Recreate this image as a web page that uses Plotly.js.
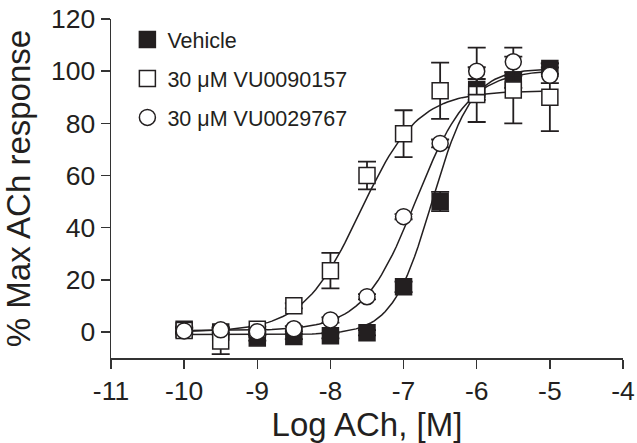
<!DOCTYPE html>
<html>
<head>
<meta charset="utf-8">
<script src="https://cdn.plot.ly/plotly-3.0.1.min.js"></script>
<style>html,body{margin:0;padding:0;background:#fff;}#chart{width:637px;height:443px;}</style>
</head>
<body>
<div id="chart"></div>
<script>
// Log [ACh] (M)
const logAch = [-10, -9.5, -9, -8.5, -8, -7.5, -7, -6.5, -6, -5.5, -5];

// Vehicle (filled squares)
const vehicleMean = [1, 0, -2.3, -1.8, -1.5, -0.3, 17.3, 50, 93, 96.6, 101];
const vehicleSem  = [1, 1, 1, 1, 1, 1, 2, 3.7, 4, 3, 2];

// 30 uM VU0090157 (open squares)
const vu0090157Mean = [0.5, -3.5, 1, 10, 23.5, 60, 76, 92.5, 91, 92.8, 90];
const vu0090157Sem  = [1, 5, 1, 1, 6.8, 5.3, 9, 10.8, 10.5, 12.8, 13];

// 30 uM VU0029767 (open circles)
const vu0029767Mean = [0.4, 0.8, 0.1, 1.2, 4.6, 13.5, 44.2, 72.3, 100, 103.6, 98.4];
const vu0029767Sem  = [1, 1, 1, 1, 1, 1, 1, 1.5, 9, 5.4, 3];

// Fitted four-parameter logistic curves: [bottom, top, logEC50, hill]
const vehicleFit   = [-1, 101, -6.61, 1.6];
const vu0090157Fit = [0, 92.5, -7.59, 1.1];
const vu0029767Fit = [0.5, 100.5, -6.83, 1.2];

const seriesNames = ['Vehicle', '30 \u03bcM VU0090157', '30 \u03bcM VU0029767'];
const xTicks = [-11, -10, -9, -8, -7, -6, -5, -4];
const yTicks = [0, 20, 40, 60, 80, 100, 120];

const INK = '#231f20';
const FONT = 'Liberation Sans, Arial, Helvetica, sans-serif';

function fitCurve(p) {
  const xs = [], ys = [];
  for (let i = 0; i <= 100; i++) {
    const x = -10 + i * 0.05;
    xs.push(x);
    ys.push(p[0] + (p[1] - p[0]) / (1 + Math.pow(10, (p[2] - x) * p[3])));
  }
  return {xs, ys};
}

const fits = [vehicleFit, vu0090157Fit, vu0029767Fit];
const curveTraces = fits.map(f => {
  const c = fitCurve(f);
  return {x: c.xs, y: c.ys, type: 'scatter', mode: 'lines',
          line: {color: INK, width: 1.5}, showlegend: false, hoverinfo: 'skip'};
});

function pointTrace(name, y, err, symbol, fill, group) {
  return {
    x: logAch, y: y, name: name, type: 'scatter', mode: 'markers',
    legendgroup: group,
    marker: {symbol: symbol, size: 16, color: fill, line: {color: INK, width: 1.5}},
    error_y: {type: 'data', array: err, visible: true, color: INK, thickness: 1.8, width: 9}
  };
}

const data = curveTraces.concat([
  pointTrace(seriesNames[0], vehicleMean, vehicleSem, 'square', INK, 'a'),
  pointTrace(seriesNames[1], vu0090157Mean, vu0090157Sem, 'square', '#ffffff', 'b'),
  pointTrace(seriesNames[2], vu0029767Mean, vu0029767Sem, 'circle', '#ffffff', 'c')
]);

const layout = {
  width: 637, height: 443,
  margin: {l: 111, r: 13.5, t: 19, b: 85},
  paper_bgcolor: '#ffffff', plot_bgcolor: '#ffffff',
  font: {family: FONT, color: INK},
  showlegend: true,
  legend: {x: 0.032, y: 1.0, xanchor: 'left', yanchor: 'top',
           font: {size: 21.5, family: FONT, color: INK}, bgcolor: 'rgba(0,0,0,0)',
           tracegroupgap: 8, itemsizing: 'trace'},
  xaxis: {
    range: [-11, -4], tickvals: xTicks, ticktext: xTicks.map(String),
    ticks: 'outside', ticklen: 9, tickwidth: 1.5, tickcolor: '#333',
    showline: true, linewidth: 1.5, linecolor: '#333',
    showgrid: false, zeroline: false,
    tickfont: {size: 26.5, family: FONT, color: INK},
    title: {text: 'Log ACh, [M]', font: {size: 33, family: FONT, color: INK}, standoff: 9}
  },
  yaxis: {
    range: [-10, 120], tickvals: yTicks, ticktext: yTicks.map(String),
    ticks: 'outside', ticklen: 9, tickwidth: 1.5, tickcolor: '#333',
    showline: true, linewidth: 1.5, linecolor: '#333',
    showgrid: false, zeroline: false,
    tickfont: {size: 26.5, family: FONT, color: INK},
    title: {text: '% Max ACh response', font: {size: 33, family: FONT, color: INK}, standoff: 10}
  }
};

Plotly.newPlot('chart', data, layout, {displayModeBar: false, staticPlot: true});
</script>
</body>
</html>
